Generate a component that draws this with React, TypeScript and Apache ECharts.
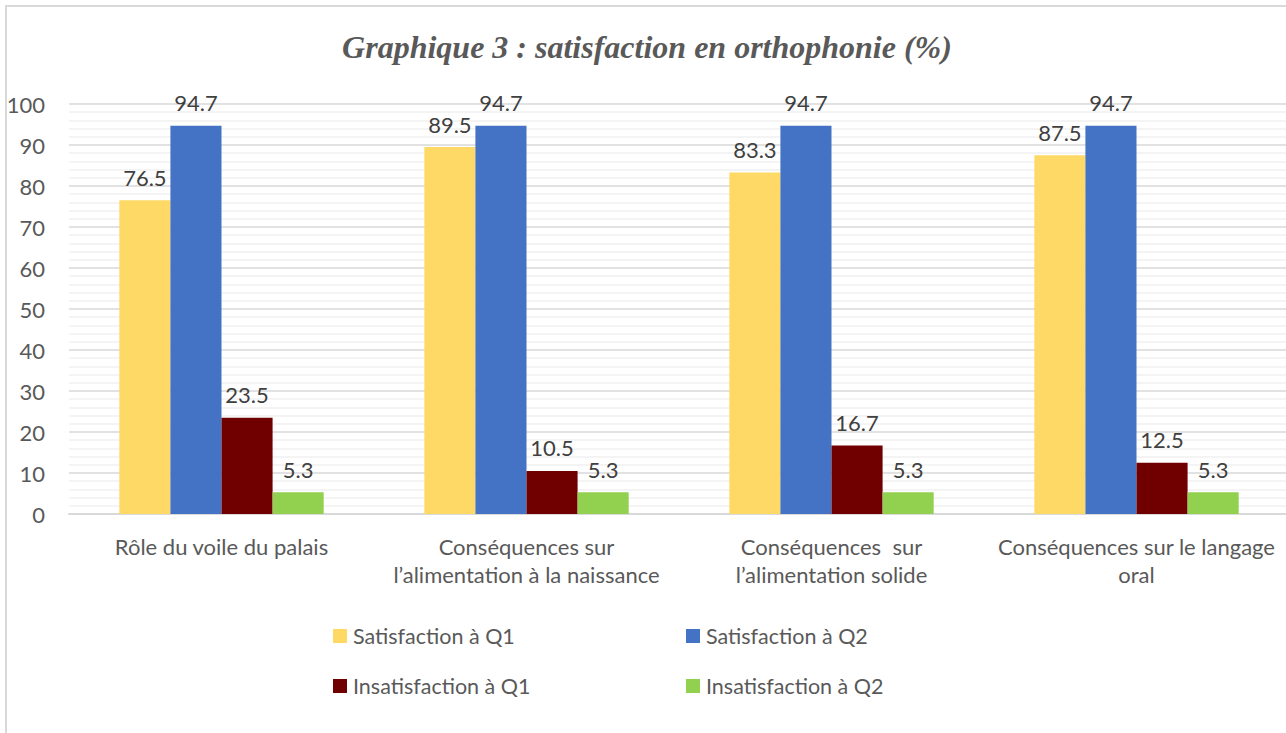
import React, { useEffect, useRef } from "react";
import * as echarts from "echarts";

const categories = [
  "Rôle du voile du palais",
  "Conséquences sur\nl’alimentation à la naissance",
  "Conséquences  sur\nl’alimentation solide",
  "Conséquences sur le langage\noral",
];
const seriesNames = [
  "Satisfaction à Q1",
  "Satisfaction à Q2",
  "Insatisfaction à Q1",
  "Insatisfaction à Q2",
];
const satQ1 = [76.5, 89.5, 83.3, 87.5];
const satQ2 = [94.7, 94.7, 94.7, 94.7];
const insatQ1 = [23.5, 10.5, 16.7, 12.5];
const insatQ2 = [5.3, 5.3, 5.3, 5.3];
const colors = ["#FFD966", "#4472C4", "#700000", "#92D050"];
const titleText = "Graphique 3 : satisfaction en orthophonie (%)";

const FONT = "Lato";
const TXT = "#595959";
const FS = 22;

export default function App() {
  const ref = useRef<HTMLDivElement>(null);
  useEffect(() => {
    if (!ref.current) return;
    const chart = echarts.init(ref.current, null, { renderer: "svg" });
    const values = [satQ1, satQ2, insatQ1, insatQ2];
    const legendPos = [
      { left: 333, top: 625 },
      { left: 686, top: 625 },
      { left: 333, top: 675 },
      { left: 686, top: 675 },
    ];
    chart.setOption({
      animation: false,
      backgroundColor: "transparent",
      graphic: [
        {
          type: "text",
          x: 647,
          y: 47,
          style: {
            text: titleText,
            fontFamily: "Liberation Serif",
            fontStyle: "italic",
            fontWeight: "bold",
            fontSize: 32,
            fill: TXT,
            textAlign: "center",
            textVerticalAlign: "middle",
          },
        },
      ],
      legend: legendPos.map((p, i) => ({
        data: [seriesNames[i]],
        left: p.left,
        top: p.top,
        icon: "rect",
        itemWidth: 14,
        itemHeight: 14,
        itemGap: 5,
        padding: 0,
        textStyle: { fontFamily: FONT, fontSize: 21.5, color: TXT, padding: [0, 0, 0, 1] },
      })),
      grid: { left: 69, top: 104, width: 1220, height: 410, containLabel: false },
      xAxis: {
        type: "category",
        data: categories,
        axisLine: { lineStyle: { color: "#d9d9d9", width: 2 } },
        axisTick: { show: false },
        axisLabel: {
          fontFamily: FONT,
          fontSize: FS,
          color: TXT,
          margin: 18,
          lineHeight: 28,
          interval: 0,
        },
      },
      yAxis: {
        type: "value",
        min: 0,
        max: 100,
        interval: 10,
        axisLine: { show: false },
        axisTick: { show: false },
        axisLabel: { fontFamily: FONT, fontSize: FS, color: TXT, margin: 24 },
        splitLine: { lineStyle: { color: "#d9d9d9", width: 1.5 } },
        minorTick: { show: false, splitNumber: 5 },
        minorSplitLine: { show: true, lineStyle: { color: "#f0f0f0", width: 1.5 } },
      },
      series: values.map((v, i) => ({
        type: "bar",
        name: seriesNames[i],
        data: v,
        barGap: "0%",
        barCategoryGap: "33%",
        itemStyle: { color: colors[i] },
        label: {
          show: true,
          position: "top",
          distance: 12,
          fontFamily: FONT,
          fontSize: FS,
          color: "#404040",
        },
      })),
    });
    return () => chart.dispose();
  }, []);
  return (
    <div style={{ position: "fixed", inset: 0, overflow: "hidden", background: "#fff" }}>
      <div
        style={{
          position: "absolute",
          left: 5,
          top: 5,
          width: 1320,
          height: 780,
          border: "2px solid #d9d9d9",
          boxSizing: "border-box",
        }}
      />
      <div ref={ref} style={{ position: "absolute", left: 0, top: 0, width: 1300, height: 760 }} />
    </div>
  );
}
